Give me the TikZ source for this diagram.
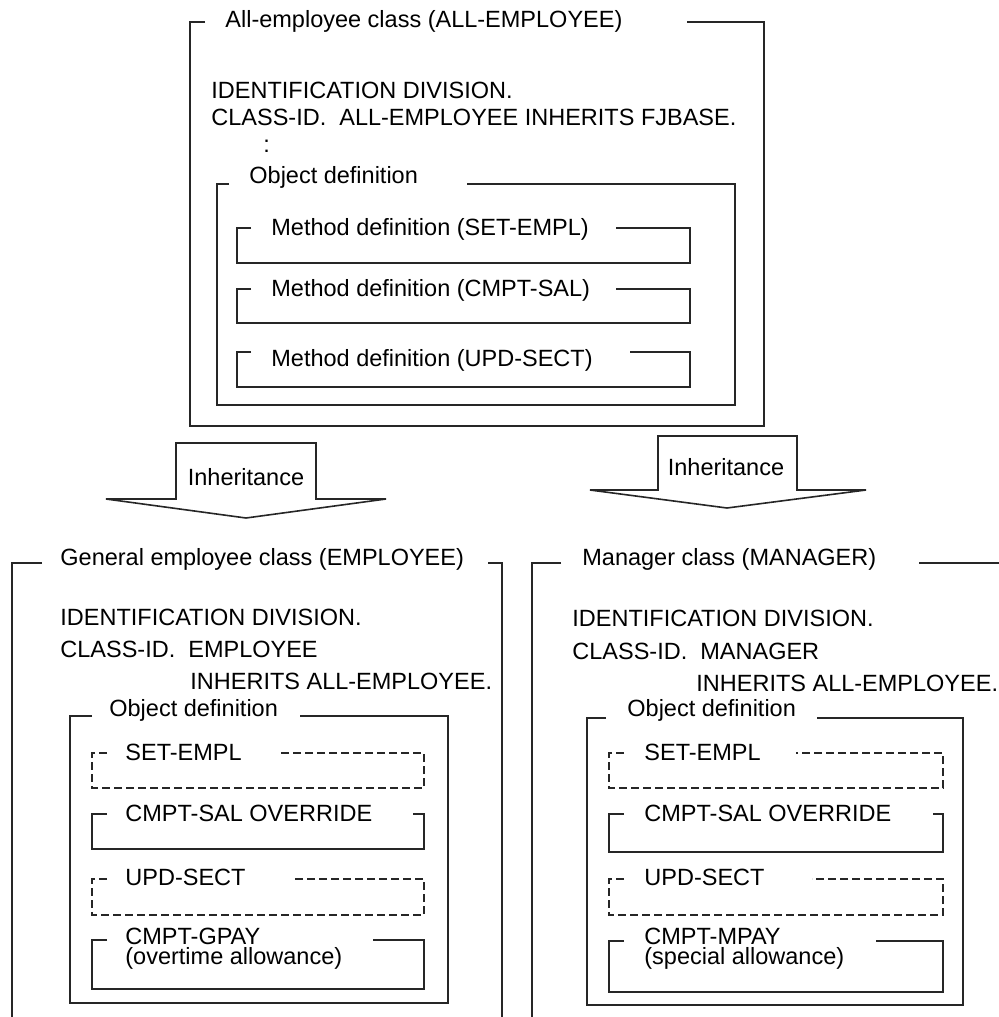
\documentclass[tikz,border=0pt]{standalone}
\usepackage{fontspec}
\setmainfont{Liberation Sans}
\usetikzlibrary{positioning}

\begin{document}
\begin{tikzpicture}[
    x=0.5pt, y=-0.5pt,
    every node/.style={font=\fontsize{11.75}{14}\selectfont, inner sep=0pt, anchor=base west},
    frame/.style={draw=black!85, line width=0.8pt},
    ghost/.style={frame, dash pattern=on 4pt off 2pt},
    arrowbody/.style={draw=black!85, line width=0.8pt, fill=white, line join=miter},
    twoline/.style={anchor=north west, align=left, font=\fontsize{11.75}{10}\selectfont}
]
\useasboundingbox (0,0) rectangle (999,1017);

% all-employee class
\draw[frame] (205,22) -| (190,426) -| (764,22) -- (687,22);
\node (allname) at (225,27) {All-employee class (ALL-EMPLOYEE)};
\node (allid) at (211,98) {IDENTIFICATION DIVISION.};
\node (allcls) at (211,125) {CLASS-ID.\ \ ALL-EMPLOYEE INHERITS FJBASE.};
\node (alldots) at (263,152) {:};
\draw[frame] (229,184) -| (217,405) -| (735,184) -- (467,184);
\node (allobj) at (249,183) {Object definition};
\foreach \ya/\yb/\gx in {228/263/616, 289/323/616, 352/387/630}
  \draw[frame] (251,\ya) -| (237,\yb) -| (690,\ya) -- (\gx,\ya);
\node (mset) at (271,235) {Method definition (SET-EMPL)};
\node (msal) at (271,296) {Method definition (CMPT-SAL)};
\node (mupd) at (271,366) {Method definition (UPD-SECT)};

% inheritance arrows
\draw[arrowbody] (176,499) -- (176,443) -- (316,443) -- (316,499) -- (386,499)
  -- (246,518) -- (106,499) -- cycle;
\node[anchor=base] (inhleft) at (246,485) {Inheritance};
\draw[arrowbody] (658,490) -- (658,436) -- (797,436) -- (797,490) -- (866,490)
  -- (727,508) -- (590,490) -- cycle;
\node[anchor=base] (inhright) at (726,475) {Inheritance};

% general employee class
\draw[frame] (42,563) -| (12,1017);
\draw[frame] (488,563) -| (502,1017);
\node (empname) at (60,565) {General employee class (EMPLOYEE)};
\node (empid) at (60,625) {IDENTIFICATION DIVISION.};
\node (empcls) at (60,657) {CLASS-ID.\ \ EMPLOYEE};
\node (empinh) at (190,689) {INHERITS ALL-EMPLOYEE.};
\draw[frame] (92,716) -| (70,1003) -| (448,716) -- (300,716);
\node (empobj) at (109,716) {Object definition};
\draw[ghost] (107,753) -| (92,788) -| (424,753) -- (278,753);
\draw[frame] (107,814) -| (92,849) -| (424,814) -- (413,814);
\draw[ghost] (107,879) -| (92,915) -| (424,879) -- (292,879);
\draw[frame] (107,940) -| (92,989) -| (424,940) -- (373,940);
\node (eset) at (125,760) {SET-EMPL};
\node (esal) at (125,821) {CMPT-SAL OVERRIDE};
\node (eupd) at (125,885) {UPD-SECT};
\node[twoline] (epay) at (125,928) {CMPT-GPAY\\(overtime allowance)};

% manager class
\draw[frame] (561,563) -| (532,1017);
\draw[frame] (919,563) -- (999,563);
\node (mgrname) at (582,565) {Manager class (MANAGER)};
\node (mgrid) at (572,626) {IDENTIFICATION DIVISION.};
\node (mgrcls) at (572,659) {CLASS-ID.\ \ MANAGER};
\node (mgrinh) at (696,691) {INHERITS ALL-EMPLOYEE.};
\draw[frame] (606,718) -| (587,1005) -| (963,718) -- (817,718);
\node (mgrobj) at (627,716) {Object definition};
\draw[ghost] (624,753) -| (609,788) -| (943,753) -- (796,753);
\draw[frame] (624,814) -| (609,852) -| (943,814) -- (933,814);
\draw[ghost] (624,879) -| (609,915) -| (943,879) -- (812,879);
\draw[frame] (624,941) -| (609,992) -| (943,941) -- (876,941);
\node (mset2) at (644,760) {SET-EMPL};
\node (msal2) at (644,821) {CMPT-SAL OVERRIDE};
\node (mupd2) at (644,885) {UPD-SECT};
\node[twoline] (mpay) at (644,928) {CMPT-MPAY\\(special allowance)};

\end{tikzpicture}
\end{document}
